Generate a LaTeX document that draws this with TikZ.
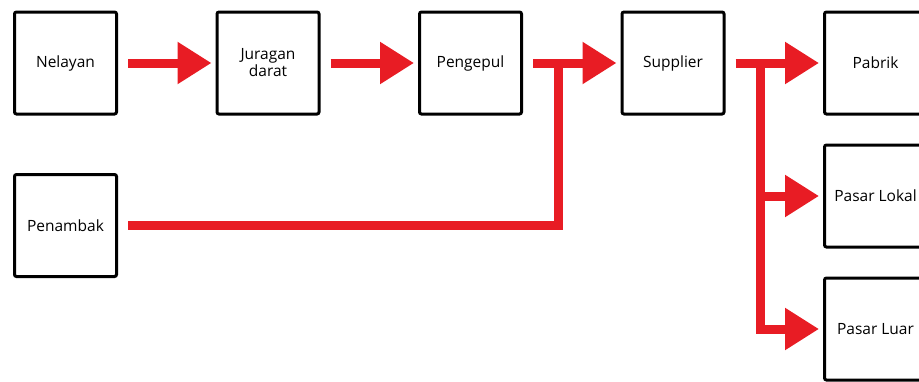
\documentclass[tikz,border=0pt]{standalone}
\usepackage{fontspec}
\setmainfont{Open Sans}
\usepackage{tikz}
\usetikzlibrary{arrows.meta,positioning}
\definecolor{flowred}{RGB}{232,28,36}
\tikzset{
    actor/.style={draw,line width=3pt,rounded corners=2pt,fill=white,
        minimum width=102pt,minimum height=102pt,align=center,
        font=\fontsize{15.5}{17}\selectfont},
    flowline/.style={draw=flowred,line width=9pt,line join=miter},
    flow/.style={flowline,-{Triangle[length=34pt,width=40pt]},
        shorten <=10pt,shorten >=4pt}
}
\begin{document}
\begin{tikzpicture}[x=1pt,y=-1pt,node distance=97.5pt]
    \useasboundingbox (0,0) rectangle (919,381);
    \node[actor] (nelayan) at (65.5,63) {Nelayan};
    \node[actor] (juragan) [right=of nelayan] {Juragan\\darat};
    \node[actor] (pengepul) [right=of juragan] {Pengepul};
    \node[actor] (supplier) [right=of pengepul] {Supplier};
    \node[actor] (pabrik) [right=of supplier] {Pabrik};
    \node[actor] (penambak) [below=57.5pt of nelayan] {Penambak};
    \node[actor] (lokal) [below=28pt of pabrik] {Pasar Lokal};
    \node[actor] (luar) [below=28pt of lokal] {Pasar Luar};
    \coordinate (pj) at (558,63);
    \coordinate (sj) at (760,63);
    % upper chain
    \draw[flow] (nelayan.east) -- (juragan.west);
    \draw[flow] (juragan.east) -- (pengepul.west);
    \draw[flowline,shorten <=10pt] (penambak.east) -| (pj);
    \draw[flow] (pengepul.east) -- (supplier.west);
    % markets
    \draw[flow] (supplier.east) -- (pabrik.west);
    \draw[flow,shorten <=0pt] (sj) |- (luar.west);
    \draw[flow,shorten <=0pt] (sj |- lokal.west) -- (lokal.west);
\end{tikzpicture}
\end{document}
